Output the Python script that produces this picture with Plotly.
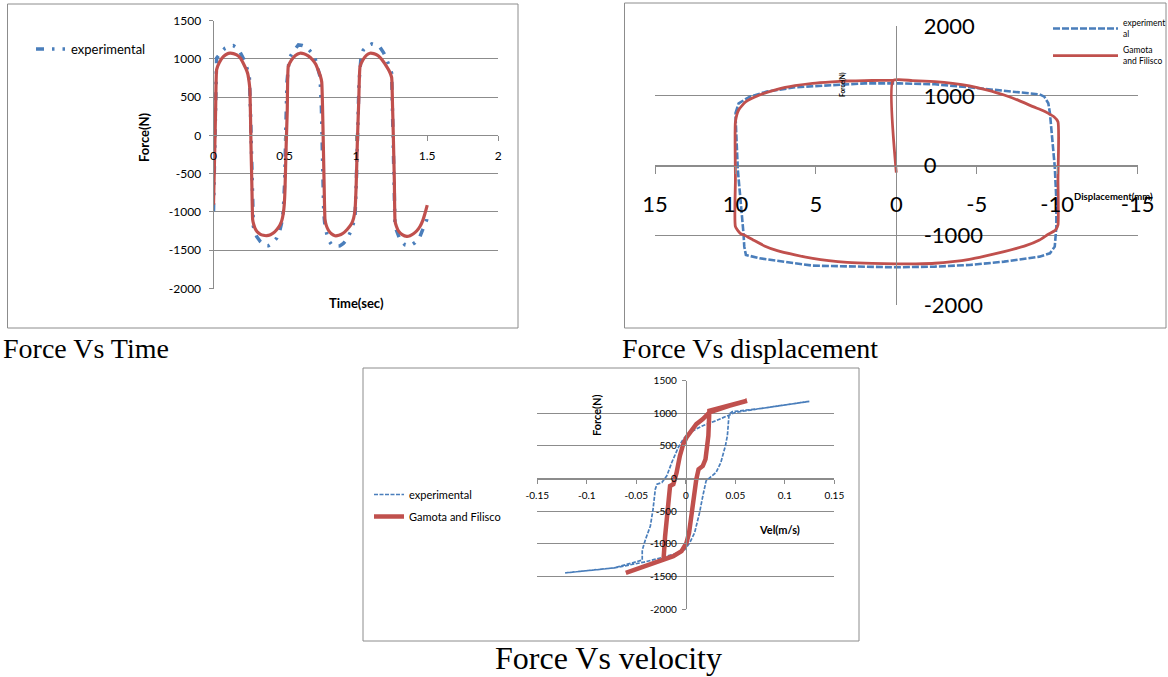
import plotly.graph_objects as go

# ---------------- data: Force vs Time ----------------
T_MODEL = [0.000, 0.008, 0.015, 0.022, 0.041, 0.069, 0.095, 0.116, 0.140, 0.163, 0.190, 0.209, 0.228, 0.240,
           0.250, 0.256, 0.263, 0.270, 0.275, 0.282, 0.291, 0.305, 0.327, 0.350, 0.373, 0.400, 0.420, 0.445,
           0.467, 0.480, 0.490, 0.497, 0.502, 0.510, 0.518, 0.525, 0.547, 0.575, 0.607, 0.635, 0.665, 0.695,
           0.718, 0.736, 0.750, 0.760, 0.766, 0.771, 0.777, 0.783, 0.792, 0.806, 0.828, 0.853, 0.880, 0.910,
           0.940, 0.970, 0.984, 0.994, 1.002, 1.010, 1.020, 1.029, 1.050, 1.075, 1.099, 1.125, 1.150, 1.169,
           1.195, 1.216, 1.235, 1.251, 1.257, 1.263, 1.270, 1.275, 1.285, 1.300, 1.325, 1.357, 1.380, 1.404,
           1.428, 1.450, 1.470, 1.485, 1.501]
F_MODEL_T = [-905, -250, 350, 860, 955, 1030, 1065, 1075, 1070, 1053, 1010, 945, 870, 810,
             700, 590, -100, -700, -1100, -1160, -1210, -1255, -1288, -1305, -1310, -1298, -1276, -1230,
             -1170, -1110, -1020, -900, -710, -150, 330, 900, 985, 1045, 1075, 1068, 1040, 990,
             930, 850, 780, 700, 350, -100, -650, -1100, -1175, -1235, -1285, -1310, -1305, -1278,
             -1225, -1150, -1080, -970, -650, -100, 450, 900, 990, 1050, 1075, 1070, 1050, 1020,
             960, 900, 840, 760, 400, -20, -600, -1120, -1190, -1250, -1295, -1318, -1310, -1285,
             -1245, -1190, -1110, -1020, -910]

T_EXP = [0.000, 0.006, 0.012, 0.022, 0.050, 0.081, 0.110, 0.139, 0.160, 0.180, 0.200, 0.221, 0.240, 0.252,
         0.260, 0.268, 0.274, 0.280, 0.303, 0.330, 0.362, 0.385, 0.410, 0.444, 0.465, 0.478, 0.490, 0.500,
         0.508, 0.516, 0.532, 0.560, 0.596, 0.625, 0.654, 0.690, 0.713, 0.735, 0.748, 0.758, 0.766, 0.774,
         0.783, 0.806, 0.830, 0.860, 0.888, 0.912, 0.935, 0.955, 0.970, 0.985, 0.994, 1.003, 1.012, 1.022,
         1.035, 1.052, 1.080, 1.111, 1.140, 1.169, 1.195, 1.216, 1.237, 1.251, 1.258, 1.266, 1.275, 1.310,
         1.345, 1.380, 1.415, 1.450, 1.480, 1.497, 1.501]
F_EXP_T = [-990, -300, 500, 1010, 1080, 1140, 1165, 1175, 1150, 1110, 1040, 965, 850, 760,
           300, -500, -1050, -1190, -1320, -1390, -1440, -1442, -1410, -1341, -1250, -1146, -990, -600,
           100, 700, 1010, 1100, 1183, 1175, 1155, 1080, 1010, 880, 770, 350, -400, -1000,
           -1190, -1363, -1428, -1445, -1442, -1410, -1363, -1300, -1233, -1130, -1059, -600, 100, 700,
           1000, 1117, 1170, 1196, 1180, 1153, 1080, 996, 900, 814, 300, -500, -1190, -1363,
           -1430, -1442, -1400, -1320, -1180, -1102, -1015]

# ---------------- data: Force vs displacement ----------------
D_MODEL = [0.0, 0.2, -1.0, -2.4, -3.5, -4.55, -5.6, -6.7, -7.6, -8.5, -9.1, -9.45, -9.8, -10.05, -10.05,
           -10.05, -9.9, -9.4, -8.9, -8.0, -6.7, -5.5, -4.55, -3.5, -2.4, -1.2, 0.0, 1.5, 3.05, 4.2, 5.2,
           6.3, 7.4, 8.2, 8.9, 9.4, 9.7, 10.0, 10.0, 10.0, 9.8, 9.35, 8.5, 7.4, 6.3, 5.2, 4.0, 3.05, 2.0,
           1.0, 0.2]
F_MODEL_D = [-100, 1220, 1218, 1203, 1178, 1141, 1085, 1012, 935, 845, 790, 749, 700, 630, -200,
             -850, -921, -990, -1064, -1150, -1231, -1295, -1341, -1375, -1398, -1406, -1408, -1400, -1384,
             -1360, -1327, -1277, -1217, -1150, -1064, -1000, -969, -873, -200, 630, 797, 916, 1012, 1093,
             1145, 1179, 1200, 1212, 1218, 1220, 1220]

D_EXP = [10.0, 9.8, 9.1, 8.05, 6.3, 4.15, 1.95, -0.2, -2.4, -4.55, -6.7, -8.9, -9.2, -9.45, -9.55, -9.65,
         -9.85, -9.95, -9.95, -9.85, -9.55, -8.9, -6.7, -4.55, -2.4, 0.0, 3.05, 5.2, 6.3, 8.5, 9.35, 9.45,
         9.5, 9.7, 9.85, 9.95, 10.0]
F_EXP_D = [750, 893, 988, 1060, 1122, 1155, 1179, 1179, 1165, 1122, 1074, 1021, 988, 893, 750, 463,
           -14, -492, -873, -1160, -1255, -1303, -1375, -1422, -1446, -1456, -1446, -1432, -1398, -1327,
           -1279, -1160, -969, -492, -62, 463, 750]

# ---------------- data: Force vs velocity ----------------
V_MODEL = [-0.0606, -0.0457, -0.029, -0.0225, -0.0209, -0.0192, -0.0175, -0.0159, -0.0126, -0.0093, -0.006,
           -0.0026, 0.0007, 0.004, 0.0106, 0.0172, 0.0238, 0.0338, 0.0437, 0.0619, 0.0437, 0.0338, 0.0238,
           0.0228, 0.0199, 0.0172, 0.0129, 0.0106, 0.0083, 0.006, 0.0033, 0.0007, -0.0043, -0.0126, -0.0225,
           -0.029, -0.0457, -0.0606]
F_MODEL_V = [-1447, -1370, -1293, -1242, -884, -577, -270, -114, -88, 91, 347, 526, 629, 706, 834, 911, 1013,
             1064, 1116, 1193, 1116, 1064, 1039, 655, 295, 193, 142, -12, -268, -576, -832, -986, -1114,
             -1191, -1242, -1293, -1370, -1447]

V_EXP = [0.1248, 0.0768, 0.047, 0.0437, 0.042, 0.040, 0.0354, 0.0305, 0.0255, 0.0205, 0.0172, 0.0139,
         0.0089, 0.004, -0.001, -0.0126, -0.029, -0.0424, -0.0722, -0.1053, -0.1219, -0.1053, -0.0722,
         -0.0440, -0.0440, -0.0407, -0.0358, -0.0331, -0.0308, -0.0291, -0.0242, -0.0192, -0.0142, -0.0076,
         -0.0026, 0.004, 0.0172, 0.0305, 0.0437, 0.0503, 0.0768, 0.1248]
F_EXP_V = [1183, 1076, 1025, 989, 656, 502, 246, 92, 30, -36, -267, -523, -831, -984, -1087, -1164, -1230,
           -1282, -1369, -1420, -1446, -1420, -1369, -1250, -1100, -933, -728, -472, -164, -87, -62, 41, 246,
           476, 604, 707, 810, 887, 964, 1015, 1076, 1183]

# ---------------- tick labels / text ----------------
TIME_TICKS = [0, 0.5, 1, 1.5, 2]
TIME_TICKTEXT = ["0", "0.5", "1", "1.5", "2"]
F1_TICKS = [-2000, -1500, -1000, -500, 0, 500, 1000, 1500]
F1_TICKTEXT = ["-2000", "-1500", "-1000", "-500", "0", "500", "1000", "1500"]
DISP_TICKS = [15, 10, 5, 0, -5, -10, -15]
DISP_TICKTEXT = ["15", "10", "5", "0", "-5", "-10", "-15"]
F2_TICKS = [-2000, -1000, 0, 1000, 2000]
F2_TICKTEXT = ["-2000", "-1000", "0", "1000", "2000"]
VEL_TICKS = [-0.15, -0.1, -0.05, 0, 0.05, 0.1, 0.15]
VEL_TICKTEXT = ["-0.15", "-0.1", "-0.05", "0", "0.05", "0.1", "0.15"]
CAPTIONS = ["Force Vs Time", "Force Vs displacement", "Force Vs velocity"]
NAME_EXP = "experimental"
NAME_MODEL = "Gamota and Filisco"

# ---------------- layout helpers ----------------
W, H = 1168, 677
BLUE = "#4A7EBB"
RED = "#C0504D"
GRID = "#8C8C8C"
FONT = "Lato, Carlito, sans-serif"
SERIF = "Liberation Serif, Times New Roman, serif"


def px(x):
    return x / W


def py(y):
    return 1 - y / H


def ydom(top, bottom):
    return [py(bottom), py(top)]


def frac(v, lo, hi, dom):
    return dom[0] + (v - lo) / (hi - lo) * (dom[1] - dom[0])


# domains (paper)
X1 = [px(213.5), px(498.3)]
Y1 = ydom(20.7, 288.5)
X2 = [px(655), px(1137.6)]
Y2 = ydom(26, 305.3)
X3 = [px(537.3), px(834.3)]
Y3 = ydom(380.7, 609)

fig = go.Figure()

# Force vs time
fig.add_trace(go.Scatter(x=T_EXP, y=F_EXP_T, mode="lines", name=NAME_EXP, legend="legend",
                         line=dict(color=BLUE, width=3.5, dash="8px,8px,2.5px,8px,2.5px,8px"),
                         xaxis="x", yaxis="y"))
fig.add_trace(go.Scatter(x=T_MODEL, y=F_MODEL_T, mode="lines", name=NAME_MODEL, showlegend=False,
                         line=dict(color=RED, width=3.2, shape="spline", smoothing=0.4),
                         xaxis="x", yaxis="y"))

# Force vs displacement
fig.add_trace(go.Scatter(x=D_EXP, y=F_EXP_D, mode="lines", name="experiment<br>al", legend="legend2",
                         legendgroup="a", line=dict(color=BLUE, width=2.6, dash="7px,2px"),
                         xaxis="x2", yaxis="y2"))
fig.add_trace(go.Scatter(x=D_MODEL, y=F_MODEL_D, mode="lines", name="Gamota<br>and Filisco", legend="legend2",
                         legendgroup="b", line=dict(color=RED, width=2.8, shape="spline", smoothing=0.5),
                         xaxis="x2", yaxis="y2"))

# Force vs velocity
fig.add_trace(go.Scatter(x=V_EXP, y=F_EXP_V, mode="lines", name=NAME_EXP, legend="legend3",
                         legendgroup="c", line=dict(color=BLUE, width=1.7, dash="4px,1.5px"),
                         xaxis="x3", yaxis="y3"))
fig.add_trace(go.Scatter(x=V_MODEL, y=F_MODEL_V, mode="lines", name=NAME_MODEL, legend="legend3",
                         legendgroup="d", line=dict(color=RED, width=4.5),
                         xaxis="x3", yaxis="y3"))

tick_common = dict(showgrid=False, zeroline=False, showline=True, linecolor=GRID, linewidth=1,
                   ticks="outside", tickcolor=GRID, tickwidth=1)
grid_common = dict(showgrid=True, gridcolor=GRID, gridwidth=1, zeroline=False, showline=True,
                   linecolor=GRID, linewidth=1, tickcolor=GRID)

fig.update_layout(
    width=W, height=H, margin=dict(l=0, r=0, t=0, b=0, autoexpand=False),
    paper_bgcolor="white", plot_bgcolor="white",
    font=dict(family=FONT, color="black"),
    xaxis=dict(domain=X1, range=[0, 2], anchor="free", position=frac(0, -2000, 1500, Y1),
               tickvals=TIME_TICKS, ticktext=TIME_TICKTEXT, ticklen=5, ticklabelstandoff=4,
               tickfont=dict(family=FONT, size=12, color="black"), **tick_common),
    yaxis=dict(domain=Y1, range=[-2000, 1500], tickvals=F1_TICKS, ticktext=F1_TICKTEXT, anchor="x",
               ticks="outside", ticklen=4, ticklabelstandoff=5,
               tickfont=dict(family=FONT, size=12, color="black"), **grid_common),
    xaxis2=dict(domain=X2, range=[15, -15], anchor="free", position=frac(0, -2000, 2000, Y2),
                tickvals=DISP_TICKS, ticktext=DISP_TICKTEXT, ticklen=7, ticklabelstandoff=12,
                tickfont=dict(family=FONT, size=22, color="black"), **tick_common),
    yaxis2=dict(domain=Y2, range=[-2000, 2000], tickvals=F2_TICKS, ticktext=F2_TICKTEXT, anchor="free",
                position=frac(0, 15, -15, X2), side="right", ticks="", ticklabelstandoff=22,
                tickfont=dict(family=FONT, size=22, color="black"), **grid_common),
    xaxis3=dict(domain=X3, range=[-0.15, 0.15], anchor="free", position=frac(0, -2000, 1500, Y3),
                tickvals=VEL_TICKS, ticktext=VEL_TICKTEXT, ticklen=4, ticklabelstandoff=3,
                tickfont=dict(family=FONT, size=10, color="black"), **tick_common),
    yaxis3=dict(domain=Y3, range=[-2000, 1500], tickvals=F1_TICKS, ticktext=F1_TICKTEXT, anchor="free",
                position=frac(0, -0.15, 0.15, X3), ticks="outside", ticklen=4, ticklabelstandoff=3,
                tickfont=dict(family=FONT, size=10, color="black"), **grid_common),
    legend=dict(x=px(31), y=py(34), xanchor="left", yanchor="top", bgcolor="rgba(0,0,0,0)",
                font=dict(family=FONT, size=13, color="black"), itemwidth=30),
    legend2=dict(x=px(1048), y=py(11), xanchor="left", yanchor="top", bgcolor="rgba(0,0,0,0)",
                 font=dict(family=FONT, size=8.5, color="black"), itemwidth=65, tracegroupgap=2),
    legend3=dict(x=px(369), y=py(480), xanchor="left", yanchor="top", bgcolor="rgba(0,0,0,0)",
                 font=dict(family=FONT, size=11, color="black"), itemwidth=30, tracegroupgap=3),
)

# chart-area frames
for (x0, y0, x1, y1) in [(7.5, 4, 518, 328), (624.5, 3, 1166, 328), (363, 368, 859, 641)]:
    fig.add_shape(type="rect", xref="paper", yref="paper", x0=px(x0), x1=px(x1), y0=py(y1), y1=py(y0),
                  line=dict(color="#8C8C8C", width=1), fillcolor="rgba(0,0,0,0)", layer="below")

# axis titles
ann = [
    dict(text="<b>Force(N)</b>", x=px(144), y=py(137), textangle=-90, font=dict(family=FONT, size=13)),
    dict(text="<b>Time(sec)</b>", x=px(356), y=py(303), font=dict(family=FONT, size=13)),
    dict(text="<b>Force(N)</b>", x=px(842), y=py(85), textangle=-90, font=dict(family=FONT, size=6.5)),
    dict(text="<b>Displacement(mm)</b>", x=px(1113), y=py(197), font=dict(family=FONT, size=9.5)),
    dict(text="<b>Force(N)</b>", x=px(596), y=py(415), textangle=-90, font=dict(family=FONT, size=11)),
    dict(text="<b>Vel(m/s)</b>", x=px(779), y=py(529), font=dict(family=FONT, size=11)),
]
for a in ann:
    fig.add_annotation(xref="paper", yref="paper", showarrow=False, xanchor="center", yanchor="middle",
                       **a)

# captions
fig.add_annotation(text=CAPTIONS[0], x=px(1), y=py(348), xref="paper", yref="paper", showarrow=False,
                   xanchor="left", yanchor="middle", font=dict(family=SERIF, size=28, color="black"))
fig.add_annotation(text=CAPTIONS[1], x=px(620), y=py(348), xref="paper", yref="paper", showarrow=False,
                   xanchor="left", yanchor="middle", font=dict(family=SERIF, size=28, color="black"))
fig.add_annotation(text=CAPTIONS[2], x=px(609), y=py(658), xref="paper", yref="paper", showarrow=False,
                   xanchor="center", yanchor="middle", font=dict(family=SERIF, size=32, color="black"))

fig.write_html("out.html", config={"displayModeBar": False},
               post_script="document.body.style.margin='0';")
